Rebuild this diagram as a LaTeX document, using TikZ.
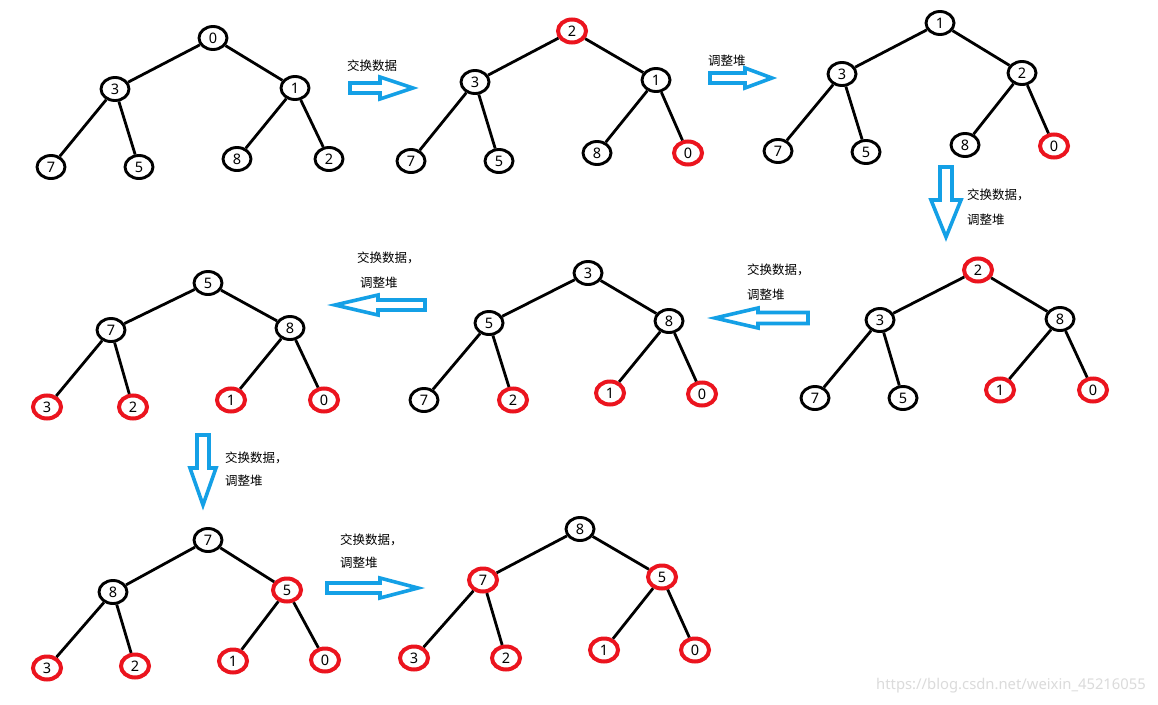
\documentclass[tikz,border=0pt]{standalone}
\usepackage{fontspec}
\setmainfont{Noto Sans}
\newfontfamily\cjk{Noto Sans CJK SC}
\usetikzlibrary{shapes.geometric}
\definecolor{pblue}{RGB}{20,160,230}
\definecolor{hred}{RGB}{235,20,30}
\tikzset{
  hn/.style={ellipse, draw=black, line width=2.9pt, minimum width=28pt, minimum height=23pt, inner sep=0pt, fill=white, font=\fontsize{14.5}{16}\selectfont},
  hr/.style={hn, draw=hred, line width=4pt},
  edge/.style={line width=2.8pt, black},
  barrow/.style={draw=pblue, line width=3.6pt, line join=miter, fill=white},
  lbl/.style={anchor=west, inner sep=0pt, font=\cjk\fontsize{12.5}{14}\selectfont},
  wm/.style={anchor=west, inner sep=0pt, text=black!14, font=\fontsize{14.8}{16}\selectfont}
}
\newcommand{\treeedges}[1]{%
  \draw[edge] (#10) -- (#11) (#10) -- (#12) (#11) -- (#13) (#11) -- (#14) (#12) -- (#15) (#12) -- (#16);}
% horizontal block arrow: x1, xh, xt, y, shaft half, head half
\newcommand{\harrow}[6]{%
  \draw[barrow] (#1,#4-#5) -- (#2,#4-#5) -- (#2,#4-#6) -- (#3,#4) -- (#2,#4+#6) -- (#2,#4+#5) -- (#1,#4+#5) -- cycle;}
% vertical block arrow: x, y1, yh, yt, shaft half, head half
\newcommand{\varrow}[6]{%
  \draw[barrow] (#1-#5,#2) -- (#1-#5,#3) -- (#1-#6,#3) -- (#1,#4) -- (#1+#6,#3) -- (#1+#5,#3) -- (#1+#5,#2) -- cycle;}
\begin{document}
\begin{tikzpicture}[x=1pt,y=-1pt]
\useasboundingbox[fill=white] (0,0) rectangle (1158,704);

% Tree 1
\node[hn] (a0) at (213,38) {0};
\node[hn] (a1) at (115,89) {3};
\node[hn] (a2) at (295,88) {1};
\node[hn] (a3) at (51,167) {7};
\node[hn] (a4) at (139,167) {5};
\node[hn] (a5) at (237,159) {8};
\node[hn] (a6) at (329,159) {2};
% Tree 2
\node[hr] (b0) at (572,31) {2};
\node[hn] (b1) at (475,82) {3};
\node[hn] (b2) at (656,80) {1};
\node[hn] (b3) at (411,161) {7};
\node[hn] (b4) at (499,161) {5};
\node[hn] (b5) at (597,153) {8};
\node[hr] (b6) at (688,153) {0};
% Tree 3
\node[hn] (c0) at (940,23) {1};
\node[hn] (c1) at (842,74) {3};
\node[hn] (c2) at (1022,73) {2};
\node[hn] (c3) at (778,151) {7};
\node[hn] (c4) at (866,152) {5};
\node[hn] (c5) at (965,145) {8};
\node[hr] (c6) at (1054,146) {0};
% Tree 4
\node[hr] (d0) at (978,270) {2};
\node[hn] (d1) at (880,320) {3};
\node[hn] (d2) at (1060,319) {8};
\node[hn] (d3) at (815,398) {7};
\node[hn] (d4) at (903,398) {5};
\node[hr] (d5) at (1000,390) {1};
\node[hr] (d6) at (1093,390) {0};
% Tree 5
\node[hn] (e0) at (588,273) {3};
\node[hn] (e1) at (489,323) {5};
\node[hn] (e2) at (669,321) {8};
\node[hn] (e3) at (424,400) {7};
\node[hr] (e4) at (513,400) {2};
\node[hr] (e5) at (610,393) {1};
\node[hr] (e6) at (702,394) {0};
% Tree 6
\node[hn] (f0) at (208,283) {5};
\node[hn] (f1) at (111,330) {7};
\node[hn] (f2) at (290,328) {8};
\node[hr] (f3) at (47,407) {3};
\node[hr] (f4) at (133,407) {2};
\node[hr] (f5) at (231,400) {1};
\node[hr] (f6) at (324,400) {0};
% Tree 7
\node[hn] (g0) at (208,540) {7};
\node[hn] (g1) at (113,592) {8};
\node[hr] (g2) at (287,590) {5};
\node[hr] (g3) at (47,668) {3};
\node[hr] (g4) at (135,666) {2};
\node[hr] (g5) at (233,661) {1};
\node[hr] (g6) at (325,660) {0};
% Tree 8
\node[hn] (h0) at (580,529) {8};
\node[hr] (h1) at (483,580) {7};
\node[hr] (h2) at (662,577) {5};
\node[hr] (h3) at (414,658) {3};
\node[hr] (h4) at (506,658) {2};
\node[hr] (h5) at (604,650) {1};
\node[hr] (h6) at (695,650) {0};

\treeedges{a}\treeedges{b}\treeedges{c}\treeedges{d}
\treeedges{e}\treeedges{f}\treeedges{g}\treeedges{h}

% block arrows
\harrow{350}{380}{413}{88}{5}{11}
\harrow{710}{745}{772}{78}{5}{10}
\varrow{946}{167}{200}{237}{6}{15}
\harrow{808}{758}{715}{318}{5.5}{10}
\harrow{425}{378}{335}{305}{5}{10}
\varrow{203}{435}{468}{505}{6}{13}
\harrow{327}{380}{418}{588}{5}{10}

% labels
\node[lbl] (t1) at (347,66) {交换数据};
\node[lbl] (t2) at (708,61) {调整堆};
\node[lbl] (t3a) at (967,195) {交换数据，};
\node[lbl] (t3b) at (967,220) {调整堆};
\node[lbl] (t4a) at (747,270) {交换数据，};
\node[lbl] (t4b) at (747,295) {调整堆};
\node[lbl] (t5a) at (357,258) {交换数据，};
\node[lbl] (t5b) at (360,283) {调整堆};
\node[lbl] (t6a) at (225,458) {交换数据，};
\node[lbl] (t6b) at (225,481) {调整堆};
\node[lbl] (t7a) at (340,540) {交换数据，};
\node[lbl] (t7b) at (340,563) {调整堆};

\node[wm] (w) at (876,686) {https://blog.csdn.net/weixin\_45216055};
\end{tikzpicture}
\end{document}
